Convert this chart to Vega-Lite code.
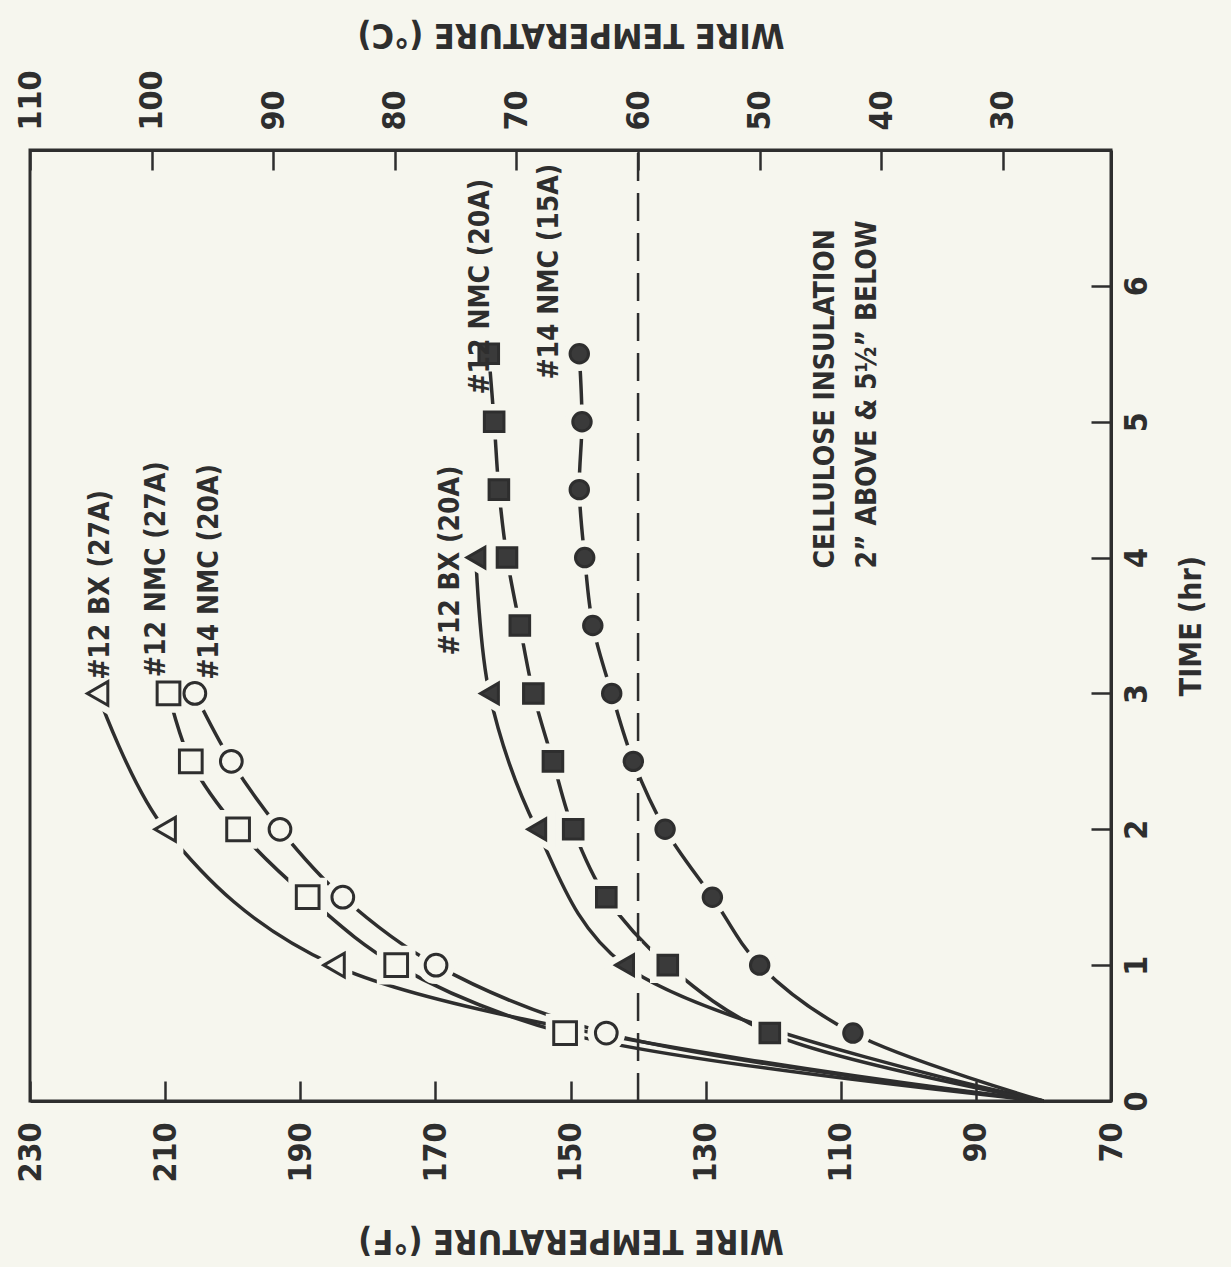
{
  "$schema": "https://vega.github.io/schema/vega-lite/v6.json",
  "width": 1081,
  "height": 951,
  "autosize": {"type": "none"},
  "padding": {"left": 30, "top": 150, "right": 120, "bottom": 166},
  "background": "#f6f6ee",
  "config": {
    "view": {"stroke": "#2e2e2e", "strokeWidth": 3},
    "axis": {
      "grid": false,
      "domainColor": "#2e2e2e",
      "domainWidth": 3,
      "tickColor": "#2e2e2e",
      "tickWidth": 2.5,
      "tickSize": -20,
      "labelFont": "DejaVu Sans Condensed, sans-serif",
      "labelFontSize": 32,
      "labelFontWeight": "bold",
      "labelColor": "#2e2e2e",
      "labelAngle": -90,
      "labelPadding": 41,
      "titleFont": "DejaVu Sans Condensed, sans-serif",
      "titleFontSize": 34,
      "titleFontWeight": "bold",
      "titleColor": "#2e2e2e"
    }
  },
  "datasets": {
    "curves": [
      {"series": "#12 BX (27A)", "hr": 0, "temp_f": 80},
      {"series": "#12 BX (27A)", "hr": 1, "temp_f": 185},
      {"series": "#12 BX (27A)", "hr": 2, "temp_f": 210},
      {"series": "#12 BX (27A)", "hr": 3, "temp_f": 220},
      {"series": "#12 NMC (27A)", "hr": 0, "temp_f": 80},
      {"series": "#12 NMC (27A)", "hr": 0.5, "temp_f": 150.8},
      {"series": "#12 NMC (27A)", "hr": 1, "temp_f": 175.8},
      {"series": "#12 NMC (27A)", "hr": 1.5, "temp_f": 188.9},
      {"series": "#12 NMC (27A)", "hr": 2, "temp_f": 199.2},
      {"series": "#12 NMC (27A)", "hr": 2.5, "temp_f": 206.2},
      {"series": "#12 NMC (27A)", "hr": 3, "temp_f": 209.5},
      {"series": "#14 NMC (20A)", "hr": 0, "temp_f": 80},
      {"series": "#14 NMC (20A)", "hr": 0.5, "temp_f": 144.7},
      {"series": "#14 NMC (20A)", "hr": 1, "temp_f": 169.9},
      {"series": "#14 NMC (20A)", "hr": 1.5, "temp_f": 183.7},
      {"series": "#14 NMC (20A)", "hr": 2, "temp_f": 193},
      {"series": "#14 NMC (20A)", "hr": 2.5, "temp_f": 200.2},
      {"series": "#14 NMC (20A)", "hr": 3, "temp_f": 205.6},
      {"series": "#12 BX (20A)", "hr": 0, "temp_f": 80},
      {"series": "#12 BX (20A)", "hr": 1, "temp_f": 142},
      {"series": "#12 BX (20A)", "hr": 2, "temp_f": 155},
      {"series": "#12 BX (20A)", "hr": 3, "temp_f": 162},
      {"series": "#12 BX (20A)", "hr": 4, "temp_f": 164},
      {"series": "#12 NMC (20A)", "hr": 0, "temp_f": 80},
      {"series": "#12 NMC (20A)", "hr": 0.5, "temp_f": 120.5},
      {"series": "#12 NMC (20A)", "hr": 1, "temp_f": 135.6},
      {"series": "#12 NMC (20A)", "hr": 1.5, "temp_f": 144.7},
      {"series": "#12 NMC (20A)", "hr": 2, "temp_f": 149.6},
      {"series": "#12 NMC (20A)", "hr": 2.5, "temp_f": 152.6},
      {"series": "#12 NMC (20A)", "hr": 3, "temp_f": 155.5},
      {"series": "#12 NMC (20A)", "hr": 3.5, "temp_f": 157.5},
      {"series": "#12 NMC (20A)", "hr": 4, "temp_f": 159.4},
      {"series": "#12 NMC (20A)", "hr": 4.5, "temp_f": 160.6},
      {"series": "#12 NMC (20A)", "hr": 5, "temp_f": 161.3},
      {"series": "#12 NMC (20A)", "hr": 5.5, "temp_f": 162.1},
      {"series": "#14 NMC (15A)", "hr": 0, "temp_f": 80},
      {"series": "#14 NMC (15A)", "hr": 0.5, "temp_f": 108.2},
      {"series": "#14 NMC (15A)", "hr": 1, "temp_f": 122},
      {"series": "#14 NMC (15A)", "hr": 1.5, "temp_f": 129},
      {"series": "#14 NMC (15A)", "hr": 2, "temp_f": 136},
      {"series": "#14 NMC (15A)", "hr": 2.5, "temp_f": 140.7},
      {"series": "#14 NMC (15A)", "hr": 3, "temp_f": 143.9},
      {"series": "#14 NMC (15A)", "hr": 3.5, "temp_f": 146.7},
      {"series": "#14 NMC (15A)", "hr": 4, "temp_f": 147.9},
      {"series": "#14 NMC (15A)", "hr": 4.5, "temp_f": 148.7},
      {"series": "#14 NMC (15A)", "hr": 5, "temp_f": 148.3},
      {"series": "#14 NMC (15A)", "hr": 5.5, "temp_f": 148.7}
    ],
    "limit": [
      {"temp_f": 140, "hr": 0, "hr_end": 7}
    ],
    "notes": [
      {"note": "#12 BX (27A)", "temp_f": 219.5, "hr": 3.1},
      {"note": "#12 NMC (27A)", "temp_f": 211.2, "hr": 3.12},
      {"note": "#14 NMC (20A)", "temp_f": 203.4, "hr": 3.1},
      {"note": "#12 BX (20A)", "temp_f": 167.7, "hr": 3.28},
      {"note": "#12 NMC (20A)", "temp_f": 163.2, "hr": 5.2},
      {"note": "#14 NMC (15A)", "temp_f": 153.0, "hr": 5.31},
      {"note": "CELLULOSE INSULATION", "temp_f": 112.2, "hr": 3.92},
      {"note": "2” ABOVE & 5½” BELOW", "temp_f": 106.0, "hr": 3.92}
    ]
  },
  "encoding": {
    "x": {
      "field": "temp_f",
      "type": "quantitative",
      "scale": {"domain": [70, 230], "reverse": true, "nice": false, "zero": false},
      "axis": null
    },
    "y": {
      "field": "hr",
      "type": "quantitative",
      "scale": {"domain": [0, 7], "nice": false, "zero": false},
      "axis": {
        "orient": "right",
        "values": [0, 1, 2, 3, 4, 5, 6],
        "title": "TIME (hr)",
        "titleFontSize": 30,
        "titleAngle": -90,
        "titleBaseline": "middle",
        "titleX": 80,
        "labelAngle": -90,
        "labelAlign": "center",
        "labelBaseline": "top",
        "labelPadding": 30
      }
    }
  },
  "layer": [
    {
      "data": {"name": "limit"},
      "mark": {"type": "rule", "stroke": "#2e2e2e", "strokeWidth": 2.5, "strokeDash": [28, 12]},
      "encoding": {
        "x": {
          "field": "temp_f",
          "type": "quantitative",
          "scale": {"domain": [70, 230], "reverse": true, "nice": false, "zero": false},
          "axis": {
            "orient": "top",
            "values": [230, 212, 194, 176, 158, 140, 122, 104, 86],
            "labelExpr": "round((datum.value - 32) * 5 / 9)",
            "labelAlign": "left",
            "labelBaseline": "middle",
            "labelPadding": 40,
            "title": "WIRE TEMPERATURE (°C)",
            "titleAngle": 180,
            "titleBaseline": "middle",
            "titleY": -117
          }
        },
        "y2": {"field": "hr_end"}
      }
    },
    {
      "data": {"name": "curves"},
      "mark": {"type": "line", "interpolate": "catmull-rom", "stroke": "#2e2e2e", "strokeWidth": 3.5},
      "encoding": {
        "x": {
          "field": "temp_f",
          "type": "quantitative",
          "scale": {"domain": [70, 230], "reverse": true, "nice": false, "zero": false},
          "axis": {
            "orient": "bottom",
            "values": [70, 90, 110, 130, 150, 170, 190, 210, 230],
            "labelAlign": "right",
            "labelBaseline": "middle",
            "title": "WIRE TEMPERATURE (°F)",
            "titleAngle": 180,
            "titleBaseline": "middle",
            "titleY": 138
          }
        },
        "detail": {"field": "series", "type": "nominal"},
        "order": {"field": "hr", "type": "quantitative"}
      }
    },
    {
      "data": {"name": "curves"},
      "transform": [{"filter": "datum.hr > 0"}],
      "mark": {"type": "point", "filled": true, "fill": "#f6f6ee", "stroke": "#f6f6ee", "strokeWidth": 16, "opacity": 1},
      "encoding": {
        "shape": {
          "field": "series", "type": "nominal", "legend": null,
          "scale": {
            "domain": ["#12 BX (27A)", "#12 NMC (27A)", "#14 NMC (20A)", "#12 BX (20A)", "#12 NMC (20A)", "#14 NMC (15A)"],
            "range": ["triangle-left", "square", "circle", "triangle-left", "square", "circle"]
          }
        },
        "size": {
          "field": "series", "type": "nominal", "legend": null,
          "scale": {
            "domain": ["#12 BX (27A)", "#12 NMC (27A)", "#14 NMC (20A)", "#12 BX (20A)", "#12 NMC (20A)", "#14 NMC (15A)"],
            "range": [560, 340, 290, 600, 484, 380]
          }
        }
      }
    },
    {
      "data": {"name": "curves"},
      "transform": [{"filter": "datum.hr > 0"}],
      "mark": {"type": "point", "filled": true, "stroke": "#2e2e2e", "strokeWidth": 3, "opacity": 1},
      "encoding": {
        "shape": {
          "field": "series", "type": "nominal", "legend": null,
          "scale": {
            "domain": ["#12 BX (27A)", "#12 NMC (27A)", "#14 NMC (20A)", "#12 BX (20A)", "#12 NMC (20A)", "#14 NMC (15A)"],
            "range": ["triangle-left", "square", "circle", "triangle-left", "square", "circle"]
          }
        },
        "size": {
          "field": "series", "type": "nominal", "legend": null,
          "scale": {
            "domain": ["#12 BX (27A)", "#12 NMC (27A)", "#14 NMC (20A)", "#12 BX (20A)", "#12 NMC (20A)", "#14 NMC (15A)"],
            "range": [560, 340, 290, 600, 484, 380]
          }
        },
        "fill": {
          "field": "series", "type": "nominal", "legend": null,
          "scale": {
            "domain": ["#12 BX (27A)", "#12 NMC (27A)", "#14 NMC (20A)", "#12 BX (20A)", "#12 NMC (20A)", "#14 NMC (15A)"],
            "range": ["#f6f6ee", "#f6f6ee", "#f6f6ee", "#3a3a3a", "#3a3a3a", "#3a3a3a"]
          }
        }
      }
    },
    {
      "data": {"name": "notes"},
      "mark": {
        "type": "text",
        "angle": -90,
        "align": "left",
        "baseline": "middle",
        "font": "DejaVu Sans Condensed, sans-serif",
        "fontWeight": "bold",
        "fontSize": 28,
        "fill": "#2e2e2e"
      },
      "encoding": {
        "text": {"field": "note", "type": "nominal"}
      }
    }
  ],
  "resolve": {"scale": {"x": "shared"}, "axis": {"x": "independent"}}
}
